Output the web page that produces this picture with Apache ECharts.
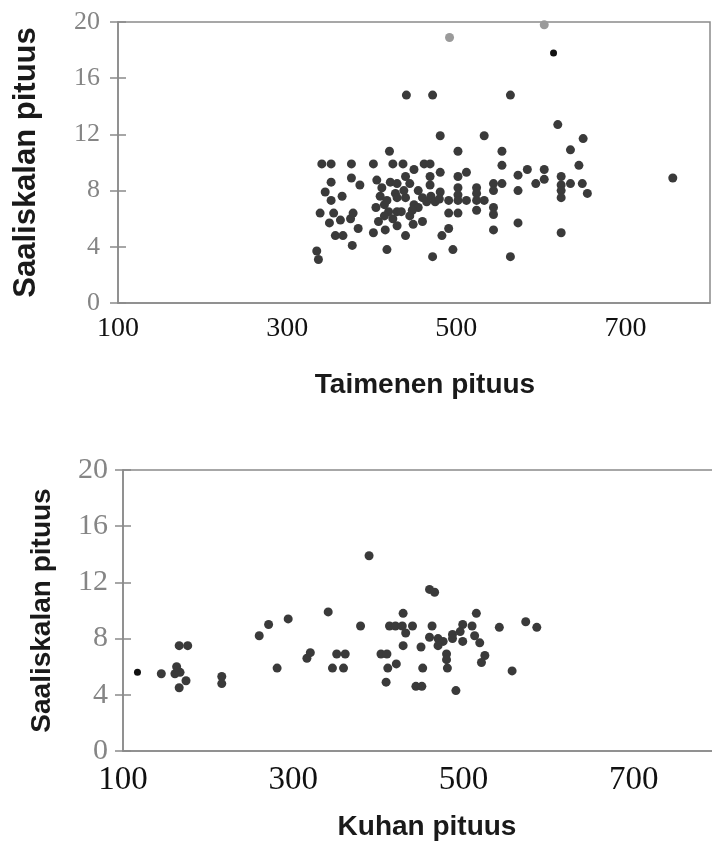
<!DOCTYPE html>
<html>
<head>
<meta charset="utf-8">
<script src="https://cdn.jsdelivr.net/npm/echarts@6/dist/echarts.min.js"></script>
<style>
  html, body { margin: 0; padding: 0; background: #fff; }
  #chart { width: 712px; height: 845px; }
</style>
</head>
<body>
<div id="chart"></div>
<script>
// Taimen (upper panel): [taimenen pituus, saaliskalan pituus]
const taimenPoints = [
  [421,10.8],[341,9.9],[352,9.9],[376,9.9],[402,9.9],[425,9.9],[352,8.6],[376,8.9],[386,8.4],[406,8.75],
  [345,7.9],[352,7.3],[365,7.6],[339,6.4],[355,6.4],[350,5.7],[363,5.9],[375,6.0],[378,6.4],[384,5.3],
  [357,4.8],[366,4.8],[402,5.0],[377,4.1],[418,3.8],[335,3.7],[337,3.1],[416,5.2],
  [410,7.6],[415,7.0],[420,6.5],[412,8.2],[418,7.3],[405,6.8],[425,6.0],[422,8.6],[408,5.8],[428,7.8],
  [430,5.5],[415,6.2],[430,8.5],[430,7.5],[430,6.5],
  [441,14.8],[472,14.8],[564,14.8],[620,12.7],[650,11.7],[481,11.9],[533,11.9],[635,10.9],[502,10.8],
  [554,10.8],[645,9.8],[554,9.8],[584,9.5],[604,9.5],[624,9.0],[573,9.1],[756,8.9],[462,9.9],[469,9.9],
  [437,9.9],[481,9.3],[512,9.3],[502,9.0],[604,8.8],[594,8.5],[544,8.5],[554,8.5],[635,8.5],[624,8.4],
  [649,8.5],[655,7.8],[624,8.0],[624,7.5],[573,8.0],[544,8.0],[502,8.2],[502,7.7],[524,8.2],[524,7.8],
  [469,9.0],[469,8.4],[481,7.9],[491,7.3],[502,7.3],[512,7.3],[524,7.3],[533,7.3],[491,6.4],[502,6.4],
  [524,6.6],[544,6.8],[544,6.3],[573,5.7],[544,5.2],[491,5.3],[483,4.8],[624,5.0],[440,4.8],[449,5.6],
  [460,5.8],[496,3.8],[472,3.3],[564,3.3],
  [440,7.5],[445,8.5],[450,7.0],[455,8.0],[460,7.5],[465,7.2],[470,7.6],[475,7.2],[480,7.4],[435,6.5],
  [445,6.2],[455,6.8],[440,9.0],[450,9.5],[438,8.0],[448,6.6]
]
const taimenGrey = [[492,18.9],[604,19.8]]
const taimenBlack = [[615,17.8]]

// Kuha (lower panel)
const kuhaPoints = [
  [145,5.5],[161,5.5],[167,5.6],[163,6.0],[174,5.0],[166,4.5],[166,7.5],[176,7.5],[216,5.3],[216,4.8],
  [260,8.2],[271,9.0],[294,9.4],[281,5.9],[316,6.6],[320,7.0],[341,9.9],[389,13.9],[346,5.9],[359,5.9],
  [351,6.9],[361,6.9],[379,8.9],[413,8.9],[420,8.9],[428,8.9],[403,6.9],[410,6.9],[411,5.9],[421,6.2],
  [409,4.9],[460,11.5],[466,11.3],[429,9.8],[515,9.8],[440,8.9],[463,8.9],[499,9.0],[510,8.9],[542,8.8],
  [573,9.2],[586,8.8],[432,8.4],[460,8.1],[470,8.0],[476,7.8],[470,7.5],[487,8.3],[496,8.5],[487,8.0],
  [499,7.8],[513,8.2],[519,7.7],[429,7.5],[450,7.4],[480,6.9],[480,6.5],[525,6.8],[521,6.3],[452,5.9],
  [481,5.9],[557,5.7],[444,4.6],[451,4.6],[491,4.3]
]
const kuhaBlack = [[117,5.6]]

const xLabels = [100, 300, 500, 700]
const yTitle = 'Saaliskalan pituus'

const axisGrey = '#8a8a8a'

const xAxisFor = (gridIndex, name, fontSize, labelMargin, nameGap, shift) => ({
  type: 'value', gridIndex, min: 100, max: 800, interval: 100,
  name, nameLocation: 'middle', nameGap,
  nameTextStyle: { fontFamily: 'Liberation Sans', fontWeight: 'bold', fontSize: 28, color: '#1a1a1a', padding: [0, 0, 0, shift] },
  axisLine: { show: true, lineStyle: { color: axisGrey, width: 1.5 } },
  axisTick: { show: false },
  splitLine: { show: false },
  axisLabel: {
    margin: labelMargin, fontFamily: 'Liberation Serif', fontSize, color: '#111',
    formatter: v => xLabels.includes(v) ? String(v) : ''
  }
})

const yAxisFor = (gridIndex, fontSize, labelMargin, nameGap, nameSize) => ({
  type: 'value', gridIndex, min: 0, max: 20, interval: 4,
  name: yTitle, nameLocation: 'middle', nameRotate: 90, nameGap,
  nameTextStyle: { fontFamily: 'Liberation Sans', fontWeight: 'bold', fontSize: nameSize, color: '#1a1a1a' },
  axisLine: { show: true, lineStyle: { color: axisGrey, width: 1.5 } },
  axisTick: { show: true, length: 8, lineStyle: { color: axisGrey, width: 1.5 } },
  splitLine: { show: false },
  axisLabel: { margin: labelMargin, fontFamily: 'Liberation Serif', fontSize, color: '#858585' }
})

// inner half of the crossing ticks
const innerTicks = gridIndex => ({
  type: 'value', gridIndex, min: 0, max: 20, interval: 4, position: 'left',
  axisLine: { show: false },
  axisTick: { show: true, inside: true, length: 8, lineStyle: { color: axisGrey, width: 1.5 } },
  axisLabel: { show: false },
  splitLine: { show: false }
})

const dots = (data, x, y, color, size) => ({
  type: 'scatter', xAxisIndex: x, yAxisIndex: y, data,
  symbolSize: size, itemStyle: { color, opacity: 1 }, silent: true
})

const chart = echarts.init(document.getElementById('chart'), null, { renderer: 'canvas' })
chart.setOption({
  animation: false,
  backgroundColor: '#fff',
  grid: [
    { left: 118, top: 22, width: 592, height: 281, outerBoundsMode: 'none', containLabel: false, show: true, borderColor: axisGrey, borderWidth: 1.5, backgroundColor: 'transparent' },
    { left: 123, top: 470, width: 596, height: 281, outerBoundsMode: 'none', containLabel: false, show: true, borderColor: axisGrey, borderWidth: 1.5, backgroundColor: 'transparent' }
  ],
  xAxis: [
    xAxisFor(0, 'Taimenen pituus', 28, 12, 68, 22),
    xAxisFor(1, 'Kuhan pituus', 33, 13, 62, 12)
  ],
  yAxis: [
    yAxisFor(0, 26, 18, 76, 31),
    innerTicks(0),
    yAxisFor(1, 30, 15, 67, 28),
    innerTicks(1)
  ],
  series: [
    dots(taimenPoints, 0, 0, '#3a3a3a', 9),
    dots(taimenGrey, 0, 0, '#9a9a9a', 9),
    dots(taimenBlack, 0, 0, '#111', 7),
    dots(kuhaPoints, 1, 2, '#3a3a3a', 9),
    dots(kuhaBlack, 1, 2, '#111', 7)
  ]
})
</script>
</body>
</html>
